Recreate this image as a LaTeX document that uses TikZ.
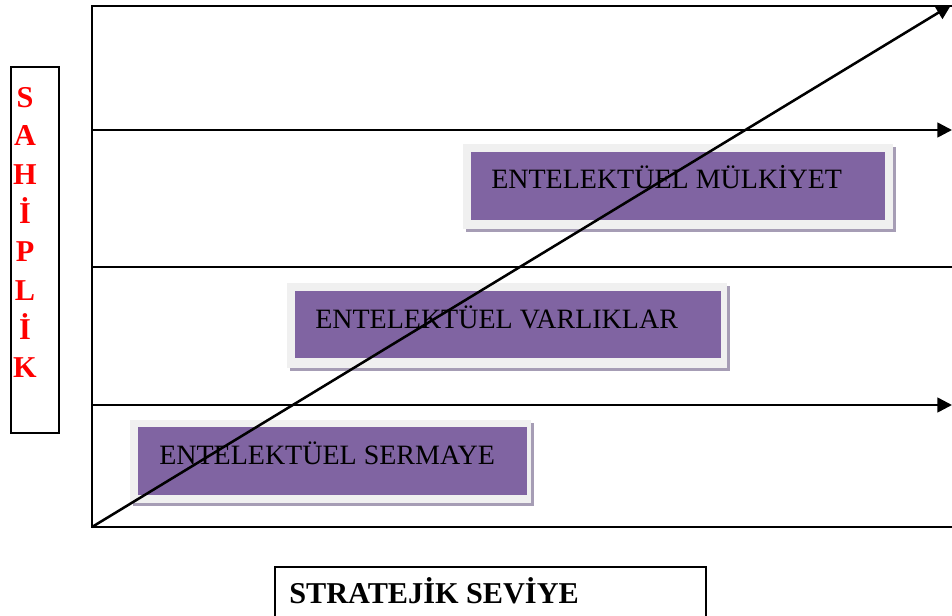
\documentclass[tikz,border=0pt]{standalone}
\usepackage{fontspec}
\setmainfont{Liberation Serif}
\usetikzlibrary{arrows.meta,shadows}
\definecolor{panelgray}{HTML}{F0F0F0}
\definecolor{panelpurple}{HTML}{8064A2}
\definecolor{panelshadow}{HTML}{A69DB5}
\newcommand\pxu{0.75pt}
\tikzset{
  axisline/.style={line width=1.9pt, black},
  arrowline/.style={axisline, -{Triangle[length=11pt,width=11pt]}},
  panel/.style={fill=panelgray, draw=none, inner sep=0pt,
    drop shadow={shadow xshift=2.5pt, shadow yshift=-2.5pt, fill=panelshadow, opacity=1}},
  core/.style={fill=panelpurple, draw=none, inner sep=0pt},
  paneltext/.style={anchor=base west, inner sep=0pt, font=\fontsize{21}{25}\selectfont},
  sidetext/.style={anchor=base, inner sep=0pt, text=red, font=\fontsize{22.7}{27}\selectfont\bfseries},
  labelbox/.style={draw=black, line width=1.4pt},
}
\begin{document}
\begin{tikzpicture}[x=0.75pt, y=-0.75pt]
\clip (0,0) rectangle (952,615);
\fill[white] (0,0) rectangle (952,615);

% purple panels
\node (pmulk) [panel, minimum width=430*\pxu, minimum height=85*\pxu] at (678,186.5) {};
\node (cmulk) [core, minimum width=414*\pxu, minimum height=68*\pxu] at (678,186) {};
\node (tmulk) [paneltext] at (491,188) {ENTELEKTÜEL MÜLKİYET};

\node (pvarl) [panel, minimum width=440*\pxu, minimum height=85*\pxu] at (507,325.5) {};
\node (cvarl) [core, minimum width=426*\pxu, minimum height=67*\pxu] at (508,324.5) {};
\node (tvarl) [paneltext] at (315,328) {ENTELEKTÜEL VARLIKLAR};

\node (pserm) [panel, minimum width=401*\pxu, minimum height=83*\pxu] at (330.5,461.5) {};
\node (cserm) [core, minimum width=389*\pxu, minimum height=68*\pxu] at (332.5,461) {};
\node (tserm) [paneltext] at (159,464) {ENTELEKTÜEL SERMAYE};

% frame of the chart
\coordinate (o) at (92,527);
\coordinate (tl) at (92,6);
\coordinate (tr) at (953,6);
\coordinate (br) at (953,527);
\coordinate (l1) at (92,130);
\coordinate (r1) at (952,130);
\coordinate (l2) at (92,267);
\coordinate (r2) at (953,267);
\coordinate (l3) at (92,405);
\coordinate (r3) at (952,405);
\coordinate (diag) at (951,5);

\draw[axisline] (tr) -- (tl) -- (o) -- (br);
\draw[arrowline] (l1) -- (r1);
\draw[axisline] (l2) -- (r2);
\draw[arrowline] (l3) -- (r3);
\draw[arrowline] (o) -- (diag);

% vertical axis label
\node (ownbox) [labelbox, minimum width=48*\pxu, minimum height=366*\pxu] at (35,250) {};
\foreach \ch [count=\i] in {S,A,H,İ,P,L,İ,K}
  \node (own\i) [sidetext] at (25,{107+38.7*(\i-1)}) {\ch};

% horizontal axis label
\node (stratbox) [labelbox, anchor=north west, minimum width=431*\pxu, minimum height=70*\pxu] at (274,566) {};
\node (strat) [anchor=base west, inner sep=0pt, font=\fontsize{22.7}{27}\selectfont\bfseries] at (289,603) {STRATEJİK SEVİYE};
\end{tikzpicture}
\end{document}
